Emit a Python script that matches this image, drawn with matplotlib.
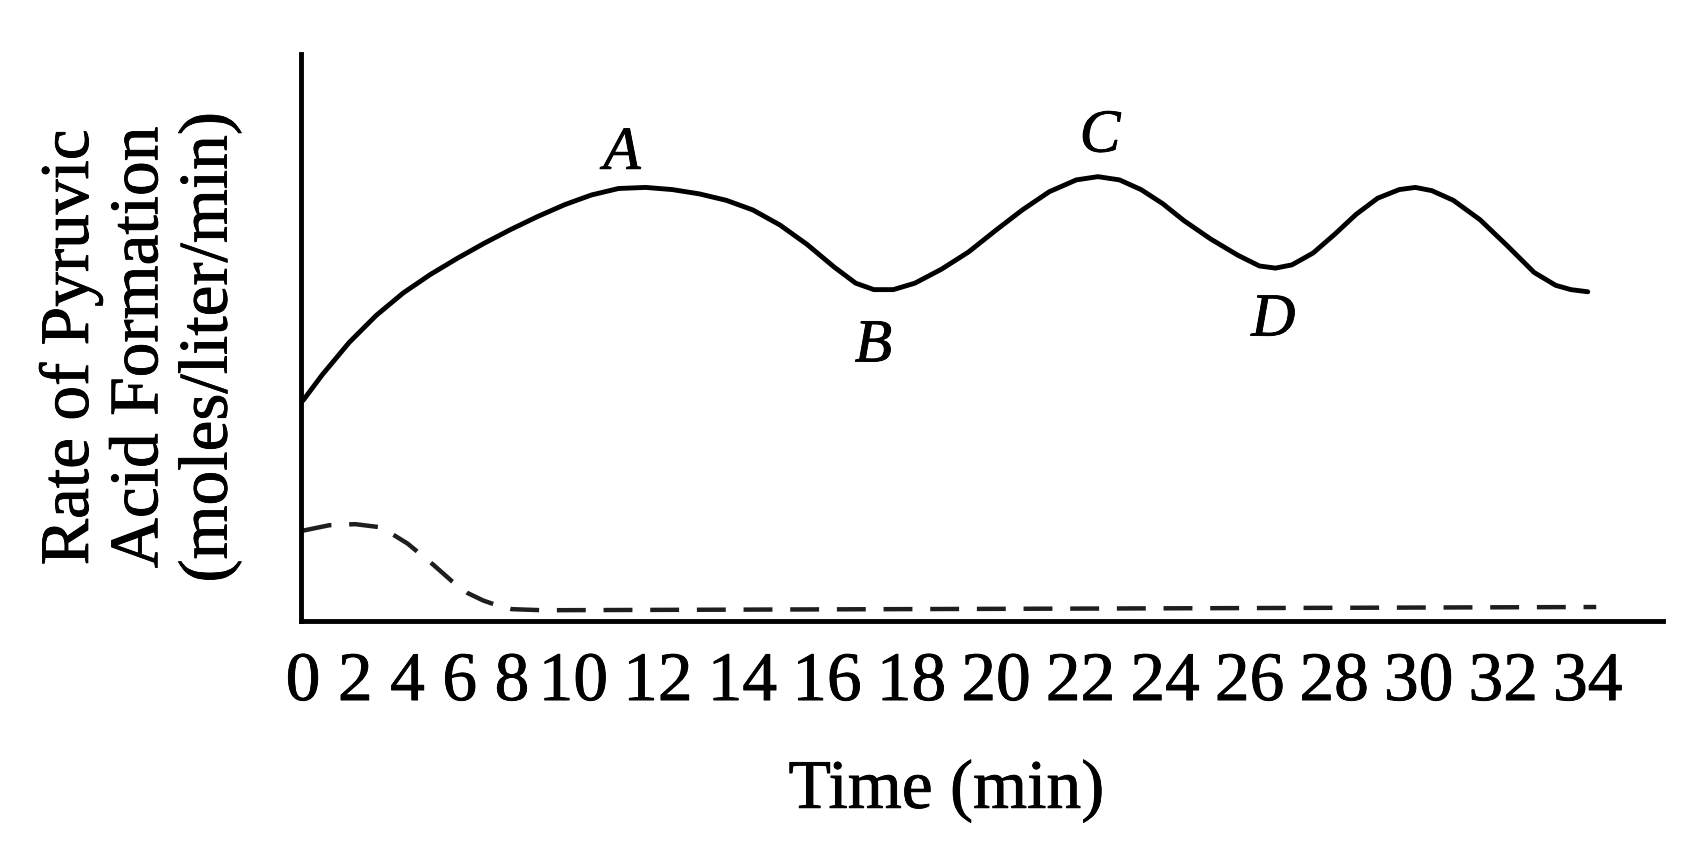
#!/usr/bin/env python3
# Pyruvic acid formation rate vs time (textbook style line chart)

import numpy as np
import matplotlib
matplotlib.use("Agg")
import matplotlib.pyplot as plt
import matplotlib.patheffects as pe

# -----------------------
# Data
# -----------------------
TIME_TICKS = list(range(0, 36, 2))

SOLID_T = [0, 0.74, 1.77, 2.8, 3.84, 4.87, 5.9, 6.93, 7.96, 8.84, 9.72, 10.43, 11.07,
           11.71, 12.34, 12.98, 13.62, 14.25, 14.89, 15.53, 16.17, 16.68, 17.11, 17.57,
           18.08, 18.71, 19.35, 19.99, 20.62, 21.26, 21.9, 22.41, 22.92, 23.43, 23.94,
           24.45, 25.08, 25.72, 26.23, 26.61, 27.0, 27.5, 28.0, 28.52, 29.03, 29.54,
           29.92, 30.31, 30.82, 31.45, 32.09, 32.73, 33.24, 33.6, 34.0]
SOLID_Y = [20.5, 22.9, 25.9, 28.4, 30.5, 32.2, 33.7, 35.1, 36.4, 37.6, 38.7, 39.6, 40.2,
           40.3, 40.1, 39.7, 39.1, 38.2, 36.8, 35.0, 32.9, 31.4, 30.8, 30.8,
           31.4, 32.7, 34.3, 36.3, 38.2, 39.9, 41.0, 41.3, 41.0, 40.1, 38.8,
           37.2, 35.5, 34.0, 33.0, 32.8, 33.1, 34.2, 35.9, 37.8, 39.3, 40.1,
           40.3, 40.0, 39.1, 37.3, 34.9, 32.4, 31.2, 30.8, 30.6]

DASH_T = [0, 1, 2, 3, 4, 5, 5.7, 6.3, 6.9, 7.5, 8, 9, 34.2]
DASH_Y = [8.4, 8.9, 9.0, 8.7, 7.2, 5.2, 3.7, 2.6, 1.9, 1.4, 1.1, 1.0, 1.3]

POINT_LABELS = ["A", "B", "C", "D"]
POINT_T = [11.15, 17.1, 22.46, 26.56]
POINT_Y = [43.4, 25.5, 45.0, 27.9]

# -----------------------
# Axis scale: the printed tick labels are typeset, so 0-8 is squeezed
# -----------------------
KNOT_T = np.array([-10, 0, 8, 10, 34, 50], dtype=float)
KNOT_U = np.array([39.5, 282, 476, 533, 1475, 2103], dtype=float)

def fwd(t):
    return np.interp(t, KNOT_T, KNOT_U)

def inv(u):
    return np.interp(u, KNOT_U, KNOT_T)

# -----------------------
# Figure
# -----------------------
SERIF = ["Liberation Serif", "DejaVu Serif"]
plt.rcParams["font.family"] = SERIF
INK = [pe.withStroke(linewidth=0.6, foreground="black")]

fig = plt.figure(figsize=(16.88, 8.48), dpi=100)
ax = fig.add_axes([0.1783, 0.2677, 0.9852 - 0.1783, 0.9363 - 0.2677])
ax.set_xscale("function", functions=(fwd, inv))

ax.plot(SOLID_T, SOLID_Y, color="black", lw=3.5,
        solid_capstyle="round", solid_joinstyle="round")
ax.plot(DASH_T, DASH_Y, color="#1e1e1e", lw=3.2, linestyle=(0, (6.5, 4)))

for lab, t, y in zip(POINT_LABELS, POINT_T, POINT_Y):
    ax.text(t, y, lab, fontsize=44, fontstyle="italic", ha="center", va="center",
            path_effects=INK)

ax.set_xlim(-0.08, 35.78)
ax.set_ylim(0, 52.7)

for side in ["top", "right"]:
    ax.spines[side].set_visible(False)
for side in ["left", "bottom"]:
    ax.spines[side].set_linewidth(3.5)

ax.set_xticks(TIME_TICKS)
ax.set_xticklabels([str(t) for t in TIME_TICKS])
ax.xaxis.set_minor_locator(matplotlib.ticker.NullLocator())
ax.tick_params(axis="x", length=0, pad=22, labelsize=50)
for lbl in ax.get_xticklabels():
    lbl.set_path_effects(INK)
ax.set_yticks([])

ax.set_xlabel("Time (min)", fontsize=50, path_effects=INK)
ax.xaxis.set_label_coords(0.474, -0.30)
ax.xaxis.label.set_va("center")

ax.set_ylabel("Rate of Pyruvic\nAcid Formation\n(moles/liter/min)", fontsize=50,
              linespacing=1.12, multialignment="center", path_effects=INK)
ax.yaxis.set_label_coords(-0.118, 0.483)
ax.yaxis.label.set_va("center")

fig.savefig("out.png", dpi=100)
